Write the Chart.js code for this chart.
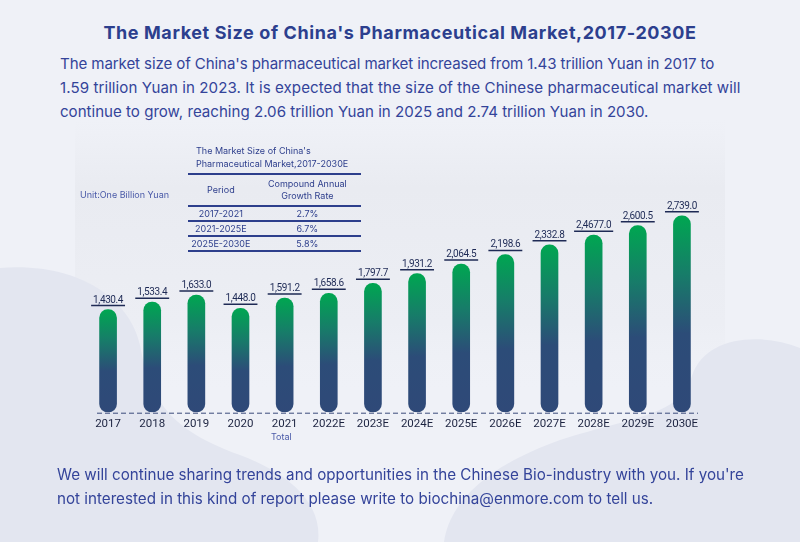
<!DOCTYPE html>
<html>
<head>
<meta charset="utf-8">
<script src="https://cdn.jsdelivr.net/npm/chart.js@4"></script>
<style>
  html, body { margin: 0; padding: 0; }
  body { width: 800px; height: 542px; position: relative; overflow: hidden; background: #eff1f7; font-family: "Inter", "Open Sans", sans-serif; }
  #bg { position: absolute; left: 0; top: 0; }
  .title { position: absolute; left: 0; width: 800px; top: 22px; text-align: center; font-weight: 700; font-size: 18px; letter-spacing: 0.6px; color: #2c3f8e; }
  .para { position: absolute; left: 60px; color: #34449a; font-size: 15.1px; white-space: nowrap; }
  .foot { position: absolute; left: 57px; color: #34449a; font-size: 15.2px; white-space: nowrap; }
  .unit { position: absolute; left: 80px; top: 189px; font-size: 9px; color: #4a5aa8; }
  .total { position: absolute; left: 271px; top: 431px; font-size: 9px; color: #4a5aa8; }
  #cagr { position: absolute; left: 188px; top: 144px; width: 173px; color: #2d3e8c; font-size: 9px; }
  #cagr .cap { padding-left: 8px; line-height: 13px; margin-bottom: 3px; }
  #cagr table { border-collapse: collapse; width: 100%; font-size: 9px; }
  #cagr th, #cagr td { text-align: center; font-weight: 400; padding: 0; }
  #cagr thead tr { border-top: 2px solid #2d3f8c; border-bottom: 2px solid #2d3f8c; }
  #cagr th { height: 30px; line-height: 12px; }
  #cagr td { height: 13px; border-bottom: 2px solid #2d3f8c; }
  #wrap { position: absolute; left: 0; top: 0; width: 800px; height: 542px; }
</style>
</head>
<body>
<svg id="bg" width="800" height="542">
  <defs>
    <linearGradient id="panel" x1="0" y1="0" x2="0" y2="1">
      <stop offset="0" stop-color="#eaecf2" stop-opacity="0"/>
      <stop offset="0.25" stop-color="#e9ebf1"/>
      <stop offset="0.75" stop-color="#eceef4"/>
      <stop offset="1" stop-color="#eef0f6" stop-opacity="0"/>
    </linearGradient>
  </defs>
  <rect x="75" y="120" width="650" height="270" fill="url(#panel)"/>
  <path d="M0 268 C80 262 130 300 140 345 C150 400 170 430 240 455 C300 478 322 510 318 542 L0 542 Z" fill="#e3e6f0"/>
  <path d="M800 348 C760 332 705 336 692 376 C680 415 640 415 560 440 C490 465 450 500 444 542 L800 542 Z" fill="#e3e6f0"/>
</svg>

<div class="title">The Market Size of China's Pharmaceutical Market,2017-2030E</div>
<div class="para" style="top:54px;letter-spacing:-0.11px">The market size of China's pharmaceutical market increased from 1.43 trillion Yuan in 2017 to</div>
<div class="para" style="top:78px;letter-spacing:0.07px">1.59 trillion Yuan in 2023. It is expected that the size of the Chinese pharmaceutical market will</div>
<div class="para" style="top:102px">continue to grow, reaching 2.06 trillion Yuan in 2025 and 2.74 trillion Yuan in 2030.</div>

<div id="wrap"><canvas id="chart"></canvas></div>

<div class="unit">Unit:One Billion Yuan</div>
<div class="total">Total</div>
<div id="cagr"></div>

<div class="foot" style="top:465px">We will continue sharing trends and opportunities in the Chinese Bio-industry with you. If you're</div>
<div class="foot" style="top:489px">not interested in this kind of report please write to biochina@enmore.com to tell us.</div>

<script>
const years = ["2017", "2018", "2019", "2020", "2021", "2022E", "2023E", "2024E", "2025E", "2026E", "2027E", "2028E", "2029E", "2030E"];
const marketSize = [1430.4, 1533.4, 1633.0, 1448.0, 1591.2, 1658.6, 1797.7, 1931.2, 2064.5, 2198.6, 2332.8, 2467.7, 2600.5, 2739.0];
const valueLabels = ["1,430.4", "1,533.4", "1,633.0", "1,448.0", "1,591.2", "1,658.6", "1,797.7", "1,931.2", "2,064.5", "2,198.6", "2,332.8", "2,4677.0", "2,600.5", "2,739.0"];

const tableCaption = ["The Market Size of China's", "Pharmaceutical Market,2017-2030E"];
const periods = ["2017-2021", "2021-2025E", "2025E-2030E"];
const cagrValues = ["2.7%", "6.7%", "5.8%"];

// small CAGR table top-left of the chart
const cagrBox = document.getElementById("cagr");
cagrBox.innerHTML =
  `<div class="cap">${tableCaption.join("<br>")}</div>` +
  `<table><thead><tr><th style="width:38%">Period</th><th>Compound Annual<br>Growth Rate</th></tr></thead><tbody>` +
  periods.map((p, i) => `<tr><td>${p}</td><td>${cagrValues[i]}</td></tr>`).join("") +
  `</tbody></table>`;

function barGradient(context) {
  const chart = context.chart;
  const yScale = chart.scales.y;
  if (!chart.chartArea || !yScale) return "#2e4a78";
  const top = yScale.getPixelForValue(context.raw);
  const base = yScale.getPixelForValue(0);
  const g = chart.ctx.createLinearGradient(0, top, 0, base);
  g.addColorStop(0, "#00a651");
  g.addColorStop(0.3, "#177c69");
  g.addColorStop(0.6, "#2c4c78");
  g.addColorStop(1, "#2f4978");
  return g;
}

// dashed base line under the bars
const baseLinePlugin = {
  id: "baseLine",
  afterDatasetsDraw(chart) {
    const ctx = chart.ctx;
    const x = chart.scales.x;
    const y = chart.scales.y.getPixelForValue(0) + 1;
    ctx.save();
    ctx.setLineDash([5, 3]);
    ctx.strokeStyle = "#3a4a7a";
    ctx.lineWidth = 1;
    ctx.beginPath();
    ctx.moveTo(x.left + 11, y);
    ctx.lineTo(x.right - 6, y);
    ctx.stroke();
    ctx.restore();
  },
};

const valueLabelPlugin = {
  id: "valueLabels",
  afterDatasetsDraw(chart) {
    const ctx = chart.ctx;
    const meta = chart.getDatasetMeta(0);
    ctx.save();
    ctx.font = '10px "Roboto", sans-serif';
    ctx.letterSpacing = "-0.4px";
    ctx.textAlign = "center";
    ctx.textBaseline = "alphabetic";
    ctx.fillStyle = "#1e2a55";
    ctx.strokeStyle = "#1e2a55";
    ctx.lineWidth = 1.5;
    meta.data.forEach((bar, i) => {
      const text = valueLabels[i];
      const w = ctx.measureText(text).width;
      ctx.fillText(text, bar.x, bar.y - 7);
      ctx.beginPath();
      ctx.moveTo(bar.x - w / 2 - 2, bar.y - 4);
      ctx.lineTo(bar.x + w / 2 + 2, bar.y - 4);
      ctx.stroke();
    });
    ctx.restore();
  },
};

new Chart(document.getElementById("chart"), {
  type: "bar",
  data: {
    labels: years,
    datasets: [
      {
        label: "Total",
        data: marketSize,
        backgroundColor: barGradient,
        borderRadius: 9,
        borderSkipped: false,
        barThickness: 17,
      },
    ],
  },
  options: {
    responsive: true,
    maintainAspectRatio: false,
    animation: false,
    layout: { padding: { left: 86, right: 96, top: 197, bottom: 106 } },
    plugins: {
      legend: { display: false },
      tooltip: { enabled: false },
    },
    scales: {
      x: {
        grid: { display: false, drawTicks: false },
        border: { display: false },
        ticks: {
          color: "#1c2340",
          font: { family: "Roboto", size: 11.5 },
          padding: 5,
          maxRotation: 0,
          autoSkip: false,
        },
      },
      y: {
        display: false,
        min: 0,
        max: 3000,
      },
    },
  },
  plugins: [baseLinePlugin, valueLabelPlugin],
});
</script>
</body>
</html>
